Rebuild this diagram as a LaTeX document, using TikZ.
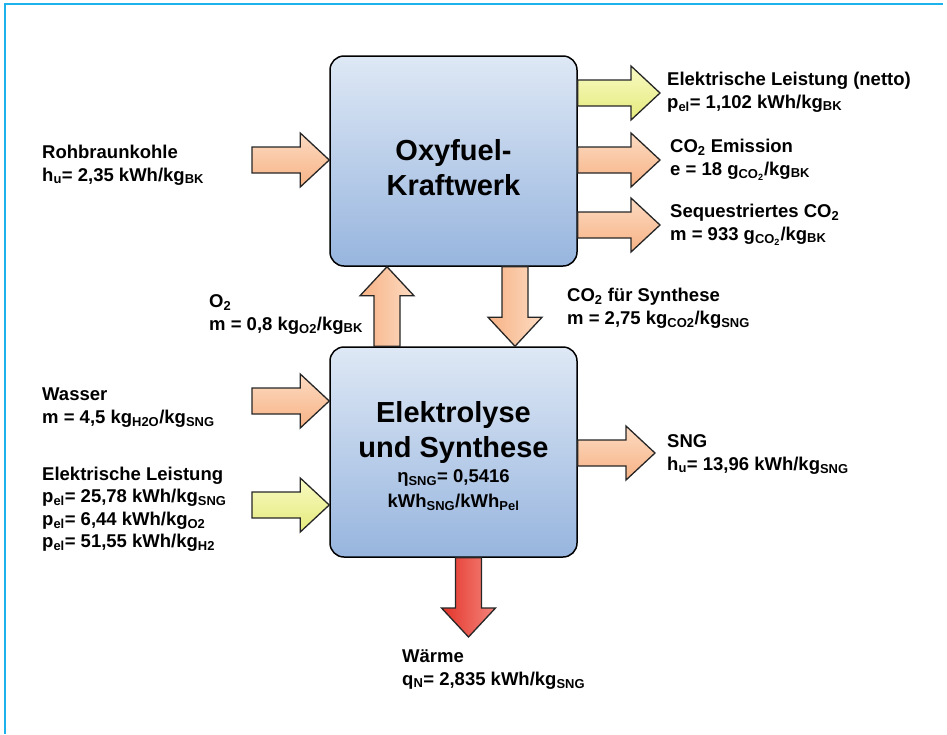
\documentclass[tikz,border=0pt]{standalone}
\usepackage{fontspec}
\setmainfont{Liberation Sans}
\usetikzlibrary{calc}

\definecolor{framecyan}{HTML}{1CB3EC}
\definecolor{boxtop}{HTML}{DEE8F5}
\definecolor{boxbottom}{HTML}{97B5DE}
\definecolor{peachtop}{HTML}{FCDBC2}
\definecolor{peachbottom}{HTML}{F7B285}
\definecolor{limetop}{HTML}{F8FAC2}
\definecolor{limebottom}{HTML}{E5EA7C}
\definecolor{heatleft}{HTML}{E3342A}
\definecolor{heatright}{HTML}{F4857C}

% fat block arrow from #2 to #3 (tip at #3)
\newcommand{\fatarrow}[3]{%
  \coordinate (fas) at (#2);
  \coordinate (fae) at (#3);
  \coordinate (fah) at ($(fae)!29pt!(fas)$);
  \draw[#1] ($(fas)!13pt!90:(fae)$) -- ($(fah)!13pt!90:(fae)$)
    -- ($(fah)!27pt!90:(fae)$) -- (fae) -- ($(fah)!27pt!-90:(fae)$)
    -- ($(fah)!13pt!-90:(fae)$) -- ($(fas)!13pt!-90:(fae)$) -- cycle;
}

\begin{document}
\begin{tikzpicture}[
    x=1pt, y=-1pt,
    font=\bfseries\fontsize{18.5}{22.5}\selectfont,
    box/.style={rectangle, rounded corners=14pt, draw=black, line width=1.5pt,
      top color=boxtop, bottom color=boxbottom, minimum width=247pt, minimum height=210pt},
    title/.style={anchor=base, align=center, inner sep=0pt, font=\bfseries\fontsize{29}{35}\selectfont},
    lbl/.style={anchor=base west, align=left, inner sep=0pt},
    arrowline/.style={draw=black!85, line width=1.3pt, line join=miter},
    peacharrow/.style={arrowline, top color=peachtop, bottom color=peachbottom},
    peachvert/.style={arrowline, left color=peachbottom, right color=peachtop},
    limearrow/.style={arrowline, top color=limetop, bottom color=limebottom},
    heatarrow/.style={arrowline, left color=heatleft, right color=heatright},
  ]
  \useasboundingbox (0,0) rectangle (947,734);
  \draw[framecyan, line width=2.5pt] (5,734) -- (5,4) -- (943,4);

  % the two plants (labels sit on their last baseline)
  \node[box] (oxy) at (453.5,161) {};
  \node[box] (ely) at (453.5,452) {};
  \node[title] (oxytitle) at (453.5,195) {Oxyfuel-\\Kraftwerk};
  \node[title] (elytitle) at (453.5,457) {Elektrolyse\\und Synthese};
  \node[anchor=base, align=center, inner sep=0pt, font=\bfseries\fontsize{18.5}{25}\selectfont] (elyeta) at (453.5,507)
    {η\textsubscript{SNG}= 0,5416\\kWh\textsubscript{SNG}/kWh\textsubscript{Pel}};

  % inputs
  \node[lbl] (coallbl) at (42,181) {Rohbraunkohle\\h\textsubscript{u}= 2,35 kWh/kg\textsubscript{BK}};
  \node[lbl] (waterlbl) at (42,423) {Wasser\\m = 4,5 kg\textsubscript{H2O}/kg\textsubscript{SNG}};
  \node[lbl] (powerlbl) at (42,547.5) {Elektrische Leistung\\p\textsubscript{el}= 25,78 kWh/kg\textsubscript{SNG}\\
    p\textsubscript{el}= 6,44 kWh/kg\textsubscript{O2}\\p\textsubscript{el}= 51,55 kWh/kg\textsubscript{H2}};
  \node[lbl] (o2lbl) at (209,330) {O\textsubscript{2}\\m = 0,8 kg\textsubscript{O2}/kg\textsubscript{BK}};
  \node[lbl] (co2lbl) at (567,324) {CO\textsubscript{2} für Synthese\\m = 2,75 kg\textsubscript{CO2}/kg\textsubscript{SNG}};

  % outputs
  \node[lbl] (netlbl) at (667,108) {Elektrische Leistung (netto)\\p\textsubscript{el}= 1,102 kWh/kg\textsubscript{BK}};
  \node[lbl] (emlbl) at (670,175) {CO\textsubscript{2} Emission\\e = 18 g\textsubscript{CO\textsubscript{2}}/kg\textsubscript{BK}};
  \node[lbl] (seqlbl) at (670,240) {Sequestriertes CO\textsubscript{2}\\m = 933 g\textsubscript{CO\textsubscript{2}}/kg\textsubscript{BK}};
  \node[lbl] (snglbl) at (667,470) {SNG\\h\textsubscript{u}= 13,96 kWh/kg\textsubscript{SNG}};
  \node[lbl] (heatlbl) at (402,685) {Wärme\\q\textsubscript{N}= 2,835 kWh/kg\textsubscript{SNG}};

  \coordinate (coalin) at (252,160);
  \coordinate (waterin) at (252,401);
  \coordinate (powerin) at (252,505);
  \coordinate (netout) at (660,93);
  \coordinate (emout) at (660,160);
  \coordinate (seqout) at (660,225);
  \coordinate (sngout) at (655,453);
  \coordinate (heatout) at (468.5,637);
  \coordinate (o2x) at (387,300);
  \coordinate (co2x) at (515,300);

  \fatarrow{peacharrow}{coalin}{coalin -| oxy.west}
  \fatarrow{peacharrow}{waterin}{waterin -| ely.west}
  \fatarrow{limearrow}{powerin}{powerin -| ely.west}
  \fatarrow{limearrow}{netout -| oxy.east}{netout}
  \fatarrow{peacharrow}{emout -| oxy.east}{emout}
  \fatarrow{peacharrow}{seqout -| oxy.east}{seqout}
  \fatarrow{peacharrow}{sngout -| ely.east}{sngout}
  \fatarrow{heatarrow}{heatout |- ely.south}{heatout}
  \fatarrow{peachvert}{ely.north -| o2x}{oxy.south -| o2x}
  \fatarrow{peachvert}{oxy.south -| co2x}{ely.north -| co2x}
\end{tikzpicture}
\end{document}
